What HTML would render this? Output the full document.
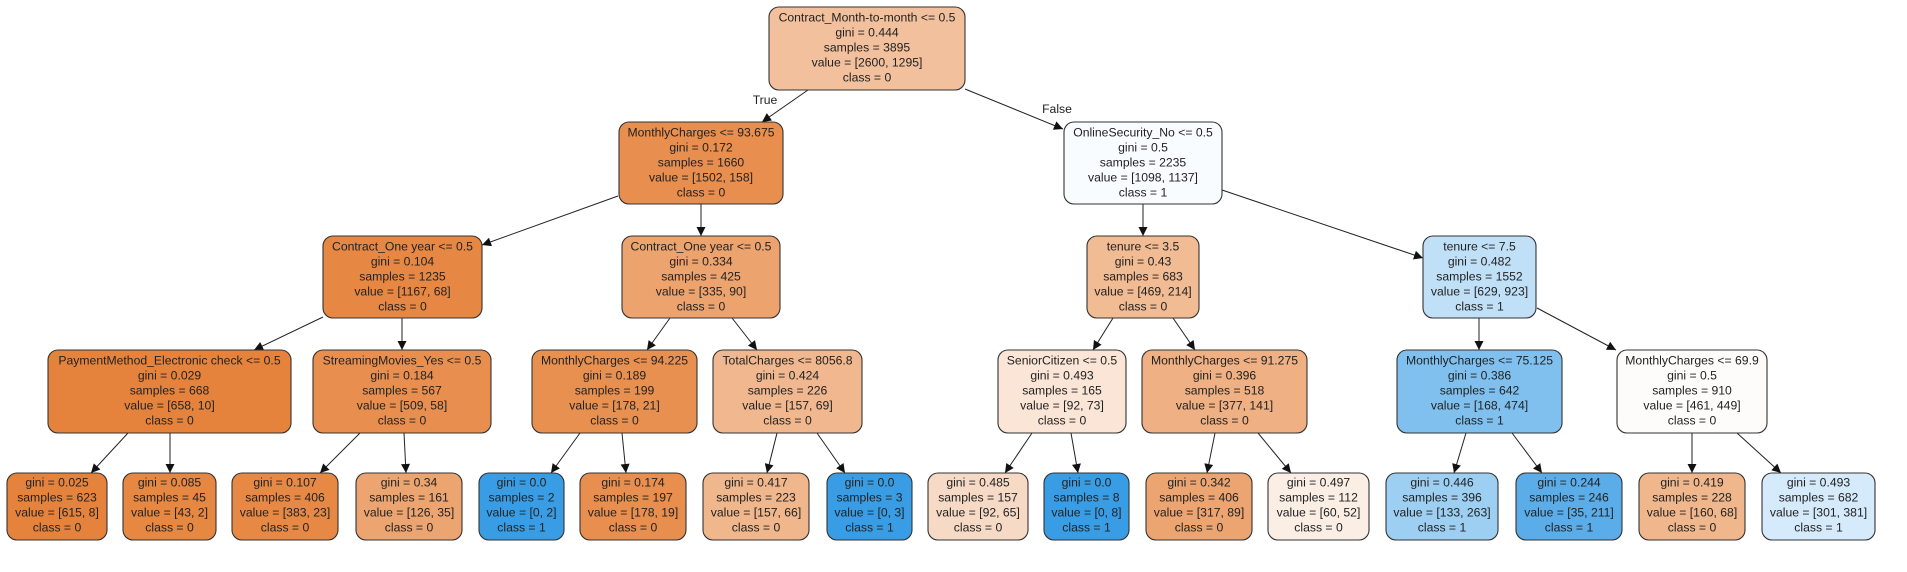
<!DOCTYPE html>
<html><head><meta charset="utf-8"><style>
html,body{margin:0;padding:0;background:#fff;}
svg{display:block}
text{font-family:"Liberation Sans",Arial,sans-serif;font-size:12.2px;fill:#222;text-anchor:middle}
rect.n{stroke:#333;stroke-width:1.1}
line{stroke:#222;stroke-width:1}
</style></head><body>
<svg width="1907" height="572" viewBox="0 0 1907 572" xmlns="http://www.w3.org/2000/svg">
<defs><marker id="a" viewBox="0 0 10 10" refX="10" refY="5" markerWidth="11" markerHeight="9" orient="auto" markerUnits="userSpaceOnUse"><path d="M0,0 L10,5 L0,10 z" fill="#111"/></marker></defs>
<g marker-end="url(#a)">
<line x1="808" y1="90" x2="762" y2="122"/>
<line x1="965" y1="89" x2="1063" y2="129"/>
<line x1="618" y1="196" x2="482" y2="245"/>
<line x1="701" y1="204" x2="701" y2="236"/>
<line x1="1143" y1="204" x2="1143" y2="236"/>
<line x1="1222" y1="190" x2="1423" y2="258"/>
<line x1="323" y1="317" x2="254" y2="350"/>
<line x1="402" y1="318" x2="402" y2="350"/>
<line x1="670" y1="318" x2="647" y2="350"/>
<line x1="732" y1="318" x2="757" y2="350"/>
<line x1="1113" y1="318" x2="1093" y2="350"/>
<line x1="1173" y1="318" x2="1195" y2="350"/>
<line x1="1479" y1="318" x2="1479" y2="350"/>
<line x1="1537" y1="308" x2="1616" y2="350"/>
<line x1="128" y1="433" x2="91" y2="473"/>
<line x1="170" y1="433" x2="170" y2="473"/>
<line x1="360" y1="433" x2="320" y2="473"/>
<line x1="404" y1="433" x2="406" y2="473"/>
<line x1="580" y1="433" x2="551" y2="473"/>
<line x1="622" y1="433" x2="626" y2="473"/>
<line x1="777" y1="433" x2="767" y2="473"/>
<line x1="817" y1="433" x2="845" y2="473"/>
<line x1="1032" y1="433" x2="1005" y2="473"/>
<line x1="1071" y1="433" x2="1078" y2="473"/>
<line x1="1215" y1="433" x2="1207" y2="473"/>
<line x1="1258" y1="433" x2="1291" y2="473"/>
<line x1="1466" y1="433" x2="1454" y2="473"/>
<line x1="1512" y1="433" x2="1542" y2="473"/>
<line x1="1692" y1="433" x2="1692" y2="473"/>
<line x1="1737" y1="433" x2="1781" y2="473"/>
</g>
<text x="765" y="104">True</text>
<text x="1057" y="113">False</text>

<g>
<rect class="n" x="769" y="7" width="196" height="83" rx="10" fill="#f2c09c"/>
<text x="867" y="21.5">Contract_Month-to-month &lt;= 0.5</text><text x="867" y="36.5">gini = 0.444</text><text x="867" y="51.5">samples = 3895</text><text x="867" y="66.5">value = [2600, 1295]</text><text x="867" y="81.5">class = 0</text>

<rect class="n" x="619" y="122" width="164" height="82" rx="10" fill="#e88e4e"/>
<text x="701" y="136.5">MonthlyCharges &lt;= 93.675</text><text x="701" y="151.5">gini = 0.172</text><text x="701" y="166.5">samples = 1660</text><text x="701" y="181.5">value = [1502, 158]</text><text x="701" y="196.5">class = 0</text>

<rect class="n" x="1064" y="122" width="158" height="82" rx="10" fill="#f9fcfe"/>
<text x="1143" y="136.5">OnlineSecurity_No &lt;= 0.5</text><text x="1143" y="151.5">gini = 0.5</text><text x="1143" y="166.5">samples = 2235</text><text x="1143" y="181.5">value = [1098, 1137]</text><text x="1143" y="196.5">class = 1</text>

<rect class="n" x="323" y="236" width="159" height="82" rx="10" fill="#e68844"/>
<text x="402.5" y="250.5">Contract_One year &lt;= 0.5</text><text x="402.5" y="265.5">gini = 0.104</text><text x="402.5" y="280.5">samples = 1235</text><text x="402.5" y="295.5">value = [1167, 68]</text><text x="402.5" y="310.5">class = 0</text>

<rect class="n" x="622" y="236" width="158" height="82" rx="10" fill="#eca36e"/>
<text x="701" y="250.5">Contract_One year &lt;= 0.5</text><text x="701" y="265.5">gini = 0.334</text><text x="701" y="280.5">samples = 425</text><text x="701" y="295.5">value = [335, 90]</text><text x="701" y="310.5">class = 0</text>

<rect class="n" x="1087" y="236" width="112" height="82" rx="10" fill="#f1bb93"/>
<text x="1143" y="250.5">tenure &lt;= 3.5</text><text x="1143" y="265.5">gini = 0.43</text><text x="1143" y="280.5">samples = 683</text><text x="1143" y="295.5">value = [469, 214]</text><text x="1143" y="310.5">class = 0</text>

<rect class="n" x="1423" y="236" width="113" height="82" rx="10" fill="#c0e0f7"/>
<text x="1479.5" y="250.5">tenure &lt;= 7.5</text><text x="1479.5" y="265.5">gini = 0.482</text><text x="1479.5" y="280.5">samples = 1552</text><text x="1479.5" y="295.5">value = [629, 923]</text><text x="1479.5" y="310.5">class = 1</text>

<rect class="n" x="48" y="350" width="243" height="83" rx="10" fill="#e5833c"/>
<text x="169.5" y="364.5">PaymentMethod_Electronic check &lt;= 0.5</text><text x="169.5" y="379.5">gini = 0.029</text><text x="169.5" y="394.5">samples = 668</text><text x="169.5" y="409.5">value = [658, 10]</text><text x="169.5" y="424.5">class = 0</text>

<rect class="n" x="313" y="350" width="178" height="83" rx="10" fill="#e88f4f"/>
<text x="402" y="364.5">StreamingMovies_Yes &lt;= 0.5</text><text x="402" y="379.5">gini = 0.184</text><text x="402" y="394.5">samples = 567</text><text x="402" y="409.5">value = [509, 58]</text><text x="402" y="424.5">class = 0</text>

<rect class="n" x="532" y="350" width="165" height="83" rx="10" fill="#e89050"/>
<text x="614.5" y="364.5">MonthlyCharges &lt;= 94.225</text><text x="614.5" y="379.5">gini = 0.189</text><text x="614.5" y="394.5">samples = 199</text><text x="614.5" y="409.5">value = [178, 21]</text><text x="614.5" y="424.5">class = 0</text>

<rect class="n" x="713" y="350" width="149" height="83" rx="10" fill="#f1b890"/>
<text x="787.5" y="364.5">TotalCharges &lt;= 8056.8</text><text x="787.5" y="379.5">gini = 0.424</text><text x="787.5" y="394.5">samples = 226</text><text x="787.5" y="409.5">value = [157, 69]</text><text x="787.5" y="424.5">class = 0</text>

<rect class="n" x="998" y="350" width="128" height="83" rx="10" fill="#fae5d6"/>
<text x="1062" y="364.5">SeniorCitizen &lt;= 0.5</text><text x="1062" y="379.5">gini = 0.493</text><text x="1062" y="394.5">samples = 165</text><text x="1062" y="409.5">value = [92, 73]</text><text x="1062" y="424.5">class = 0</text>

<rect class="n" x="1142" y="350" width="165" height="83" rx="10" fill="#efb083"/>
<text x="1224.5" y="364.5">MonthlyCharges &lt;= 91.275</text><text x="1224.5" y="379.5">gini = 0.396</text><text x="1224.5" y="394.5">samples = 518</text><text x="1224.5" y="409.5">value = [377, 141]</text><text x="1224.5" y="424.5">class = 0</text>

<rect class="n" x="1397" y="350" width="165" height="83" rx="10" fill="#7fc0ee"/>
<text x="1479.5" y="364.5">MonthlyCharges &lt;= 75.125</text><text x="1479.5" y="379.5">gini = 0.386</text><text x="1479.5" y="394.5">samples = 642</text><text x="1479.5" y="409.5">value = [168, 474]</text><text x="1479.5" y="424.5">class = 1</text>

<rect class="n" x="1617" y="350" width="150" height="83" rx="10" fill="#fefcfa"/>
<text x="1692" y="364.5">MonthlyCharges &lt;= 69.9</text><text x="1692" y="379.5">gini = 0.5</text><text x="1692" y="394.5">samples = 910</text><text x="1692" y="409.5">value = [461, 449]</text><text x="1692" y="424.5">class = 0</text>
</g>

<g>
<rect class="n" x="7" y="473" width="100" height="67" rx="10" fill="#e5833c"/>
<text x="57" y="486.5">gini = 0.025</text><text x="57" y="501.5">samples = 623</text><text x="57" y="516.5">value = [615, 8]</text><text x="57" y="531.5">class = 0</text>
<rect class="n" x="123" y="473" width="93" height="67" rx="10" fill="#e68742"/>
<text x="169.5" y="486.5">gini = 0.085</text><text x="169.5" y="501.5">samples = 45</text><text x="169.5" y="516.5">value = [43, 2]</text><text x="169.5" y="531.5">class = 0</text>
<rect class="n" x="232" y="473" width="106" height="67" rx="10" fill="#e78945"/>
<text x="285" y="486.5">gini = 0.107</text><text x="285" y="501.5">samples = 406</text><text x="285" y="516.5">value = [383, 23]</text><text x="285" y="531.5">class = 0</text>
<rect class="n" x="356" y="473" width="106" height="67" rx="10" fill="#eca470"/>
<text x="409" y="486.5">gini = 0.34</text><text x="409" y="501.5">samples = 161</text><text x="409" y="516.5">value = [126, 35]</text><text x="409" y="531.5">class = 0</text>
<rect class="n" x="479" y="473" width="85" height="67" rx="10" fill="#399de5"/>
<text x="521.5" y="486.5">gini = 0.0</text><text x="521.5" y="501.5">samples = 2</text><text x="521.5" y="516.5">value = [0, 2]</text><text x="521.5" y="531.5">class = 1</text>
<rect class="n" x="580" y="473" width="106" height="67" rx="10" fill="#e88e4e"/>
<text x="633" y="486.5">gini = 0.174</text><text x="633" y="501.5">samples = 197</text><text x="633" y="516.5">value = [178, 19]</text><text x="633" y="531.5">class = 0</text>
<rect class="n" x="703" y="473" width="106" height="67" rx="10" fill="#f0b68c"/>
<text x="756" y="486.5">gini = 0.417</text><text x="756" y="501.5">samples = 223</text><text x="756" y="516.5">value = [157, 66]</text><text x="756" y="531.5">class = 0</text>
<rect class="n" x="827" y="473" width="85" height="67" rx="10" fill="#399de5"/>
<text x="869.5" y="486.5">gini = 0.0</text><text x="869.5" y="501.5">samples = 3</text><text x="869.5" y="516.5">value = [0, 3]</text><text x="869.5" y="531.5">class = 1</text>
<rect class="n" x="928" y="473" width="100" height="67" rx="10" fill="#f7dac5"/>
<text x="978" y="486.5">gini = 0.485</text><text x="978" y="501.5">samples = 157</text><text x="978" y="516.5">value = [92, 65]</text><text x="978" y="531.5">class = 0</text>
<rect class="n" x="1044" y="473" width="85" height="67" rx="10" fill="#399de5"/>
<text x="1086.5" y="486.5">gini = 0.0</text><text x="1086.5" y="501.5">samples = 8</text><text x="1086.5" y="516.5">value = [0, 8]</text><text x="1086.5" y="531.5">class = 1</text>
<rect class="n" x="1146" y="473" width="106" height="67" rx="10" fill="#eca471"/>
<text x="1199" y="486.5">gini = 0.342</text><text x="1199" y="501.5">samples = 406</text><text x="1199" y="516.5">value = [317, 89]</text><text x="1199" y="531.5">class = 0</text>
<rect class="n" x="1268" y="473" width="101" height="67" rx="10" fill="#fbeee5"/>
<text x="1318.5" y="486.5">gini = 0.497</text><text x="1318.5" y="501.5">samples = 112</text><text x="1318.5" y="516.5">value = [60, 52]</text><text x="1318.5" y="531.5">class = 0</text>
<rect class="n" x="1386" y="473" width="112" height="67" rx="10" fill="#9dcff2"/>
<text x="1442" y="486.5">gini = 0.446</text><text x="1442" y="501.5">samples = 396</text><text x="1442" y="516.5">value = [133, 263]</text><text x="1442" y="531.5">class = 1</text>
<rect class="n" x="1516" y="473" width="106" height="67" rx="10" fill="#5aade9"/>
<text x="1569" y="486.5">gini = 0.244</text><text x="1569" y="501.5">samples = 246</text><text x="1569" y="516.5">value = [35, 211]</text><text x="1569" y="531.5">class = 1</text>
<rect class="n" x="1639" y="473" width="106" height="67" rx="10" fill="#f0b78d"/>
<text x="1692" y="486.5">gini = 0.419</text><text x="1692" y="501.5">samples = 228</text><text x="1692" y="516.5">value = [160, 68]</text><text x="1692" y="531.5">class = 0</text>
<rect class="n" x="1762" y="473" width="113" height="67" rx="10" fill="#d5eafa"/>
<text x="1818.5" y="486.5">gini = 0.493</text><text x="1818.5" y="501.5">samples = 682</text><text x="1818.5" y="516.5">value = [301, 381]</text><text x="1818.5" y="531.5">class = 1</text>
</g>
</svg>
</body></html>
